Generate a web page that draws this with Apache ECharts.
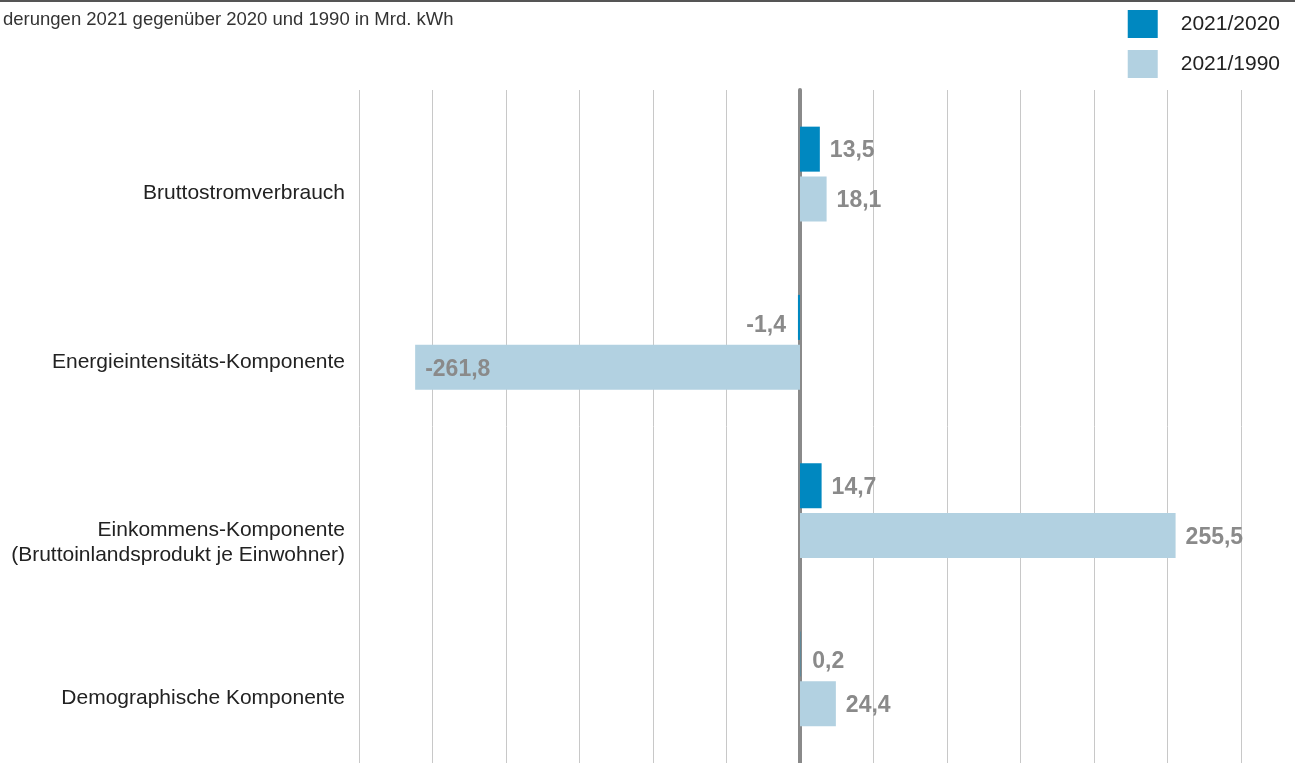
<!DOCTYPE html>
<html>
<head>
<meta charset="utf-8">
<script src="https://cdn.jsdelivr.net/npm/echarts@6/dist/echarts.min.js"></script>
<style>
  html, body { margin: 0; padding: 0; background: #fff; }
  #chart { width: 1295px; height: 763px; }
</style>
</head>
<body>
<div id="chart"></div>
<script>
const categories = [
  'Bruttostromverbrauch',
  'Energieintensitäts-Komponente',
  'Einkommens-Komponente\n(Bruttoinlandsprodukt je Einwohner)',
  'Demographische Komponente'
]
const seriesNames = ['2021/2020', '2021/1990']
const values2020 = [13.5, -1.4, 14.7, 0.2]
const values1990 = [18.1, -261.8, 255.5, 24.4]
const colors = ['#0088c0', '#b2d1e1']

const chart = echarts.init(document.getElementById('chart'), null, { renderer: 'canvas' })

const fmt = v => v.toFixed(1).replace('.', ',')

// label goes outside the bar end, except for the long negative bar;
// labels of very thin bars sit a bit lower
function withLabels(values) {
  return values.map(v => ({
    value: v,
    label: {
      position: v >= 0 ? 'right' : (v < -200 ? 'insideLeft' : 'left'),
      distance: Math.abs(v) < 2 ? 12 : 10,
      offset: [0, Math.abs(v) < 2 ? 8 : 2]
    }
  }))
}

const labelStyle = {
  show: true,
  formatter: p => fmt(p.value),
  color: '#8a8a8a',
  fontWeight: 'bold',
  fontSize: 23,
  fontFamily: 'Liberation Sans, Arial, sans-serif'
}

const option = {
  animation: false,
  backgroundColor: '#fff',
  title: {
    text: 'derungen 2021 gegenüber 2020 und 1990 in Mrd. kWh',
    left: -2,
    top: 5,
    textStyle: {
      fontFamily: 'Liberation Sans, Arial, sans-serif',
      fontSize: 18.5,
      fontWeight: 'normal',
      color: '#333'
    }
  },
  legend: {
    data: seriesNames,
    orient: 'vertical',
    right: 15,
    top: 10,
    padding: 0,
    itemWidth: 30,
    itemHeight: 28,
    itemGap: 12,
    icon: 'rect',
    textStyle: {
      fontFamily: 'Liberation Sans, Arial, sans-serif',
      fontSize: 21,
      color: '#222',
      padding: [2, 0, 0, 18]
    }
  },
  graphic: [
    {
      type: 'line',
      shape: { x1: 0, y1: 1, x2: 1295, y2: 1 },
      style: { stroke: '#555', lineWidth: 2 }
    }
  ],
  grid: {
    left: 359,
    right: 54,
    top: 90,
    height: 676
  },
  xAxis: {
    type: 'value',
    min: -300,
    max: 300,
    interval: 50,
    axisLabel: { show: false },
    axisLine: { show: false },
    axisTick: { show: false },
    splitLine: { lineStyle: { color: '#c8c8c8', width: 1 } }
  },
  yAxis: {
    type: 'category',
    data: categories,
    inverse: true,
    axisLine: { show: true, onZero: true, lineStyle: { color: '#8a8a8a', width: 4 } },
    axisTick: { show: false },
    axisLabel: {
      margin: 14,
      fontFamily: 'Liberation Sans, Arial, sans-serif',
      fontSize: 21,
      color: '#222',
      lineHeight: 25,
      verticalAlign: 'top',
      padding: [7, 0, 0, 0]
    },
    z: 0
  },
  series: [
    {
      name: seriesNames[0],
      type: 'bar',
      data: withLabels(values2020),
      barWidth: 45,
      barGap: '11%',
      itemStyle: { color: colors[0] },
      label: labelStyle,
      z: 4
    },
    {
      name: seriesNames[1],
      type: 'bar',
      data: withLabels(values1990),
      barWidth: 45,
      barGap: '11%',
      itemStyle: { color: colors[1] },
      label: labelStyle,
      z: 4
    }
  ]
}

chart.setOption(option)
</script>
</body>
</html>
